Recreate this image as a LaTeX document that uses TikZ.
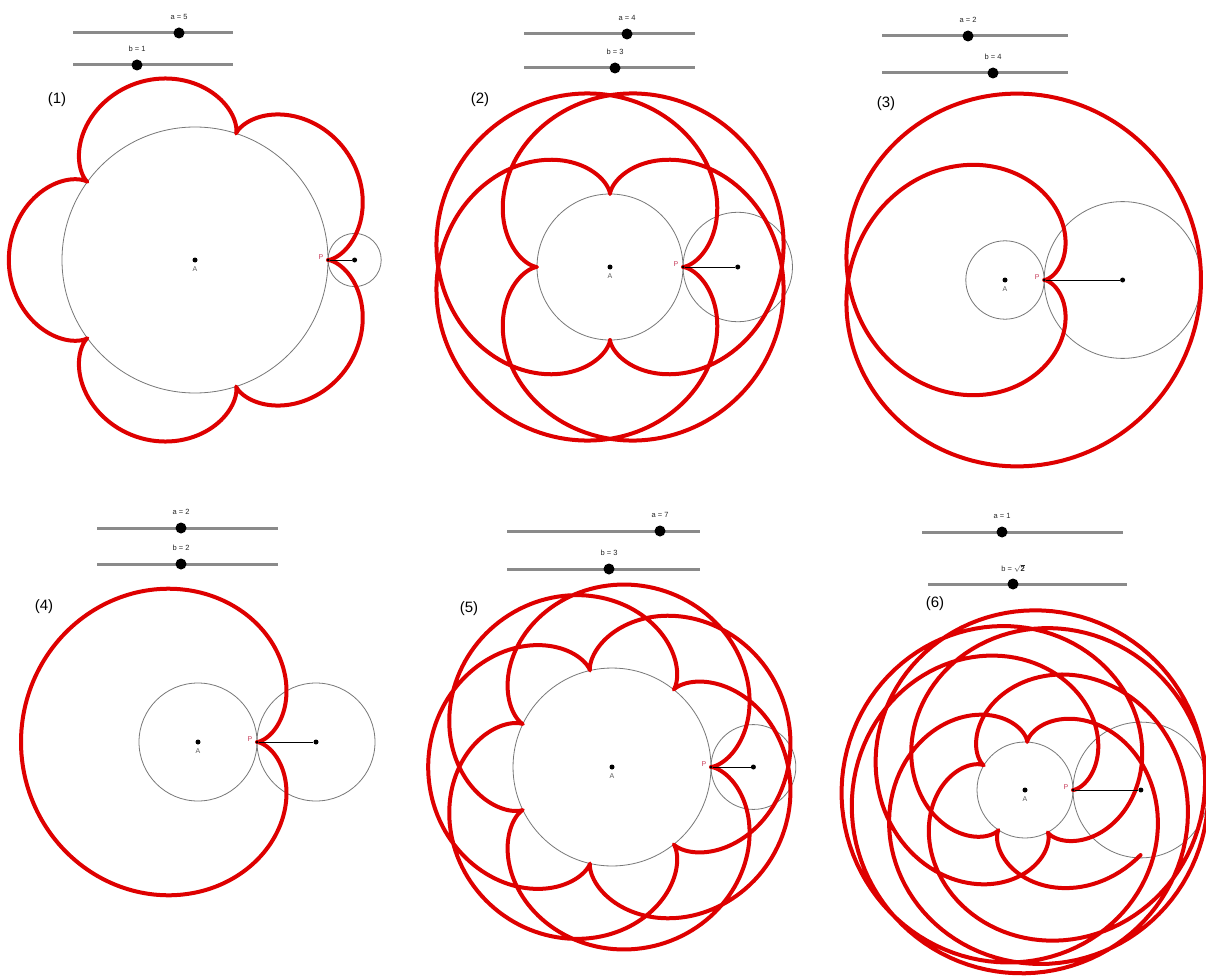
\documentclass[tikz,border=0pt]{standalone}
\usepackage{fontspec}
\setmainfont{Liberation Sans}
\definecolor{curvered}{RGB}{222,0,0}
\definecolor{slidergray}{RGB}{138,138,138}
\definecolor{circgray}{RGB}{120,120,120}
\definecolor{plabel}{RGB}{200,60,90}
\tikzset{
  curve/.style={draw=curvered, line width=4pt, line join=round, line cap=round},
  thincirc/.style={draw=circgray, line width=0.8pt},
  dot/.style={circle, fill=black, inner sep=0pt, minimum size=5pt},
  pdot/.style={circle, fill=black, inner sep=0pt, minimum size=3pt},
  seg/.style={draw=black, line width=0.9pt},
  lblA/.style={text=black!65, font=\fontsize{7}{8}\selectfont, inner sep=1pt},
  lblP/.style={text=plabel, font=\fontsize{7}{8}\selectfont, inner sep=1pt},
  sliderline/.style={draw=slidergray, line width=3pt},
  handle/.style={circle, fill=black, inner sep=0pt, minimum size=11pt},
  sliderlabel/.style={font=\fontsize{7.5}{9}\selectfont, text=black!85, inner sep=1pt},
  panellabel/.style={font=\fontsize{15}{17}\selectfont, inner sep=0pt}
}
% #1 u, #2 a, #3 b, #4 tmax, #5 samples
\newcommand\epicurve[5]{\draw[curve] plot[domain=0:#4, samples=#5, variable=\t]
  ({#1*((#2+#3)*cos(deg(\t)) - #3*cos(deg((#2+#3)/#3*\t)))},
   {#1*((#2+#3)*sin(deg(\t)) - #3*sin(deg((#2+#3)/#3*\t)))});}
% #1 Ax, #2 Ay, #3 u, #4 a, #5 b, #6 tmax, #7 samples, #8 id
\newcommand\epipanel[8]{%
\begin{scope}[shift={(#1,-#2)}]
  \draw[thincirc] (0,0) circle ({#3*#4});
  \draw[thincirc] ({#3*(#4+#5)},0) circle ({#3*#5});
  \epicurve{#3}{#4}{#5}{#6}{#7}
  \node[dot] (A#8) at (0,0) {};
  \node[dot] (C#8) at ({#3*(#4+#5)},0) {};
  \node[pdot] (P#8) at ({#3*#4},0) {};
  \draw[seg] (P#8) -- (C#8);
  \node[lblA] (LA#8) at (0,-9) {A};
  \node[lblP] (LP#8) at ({#3*#4-7},3) {P};
\end{scope}}
% #1 x1, #2 x2, #3 y, #4 handle x, #5 label, #6 id
\newcommand\epislider[6]{%
  \coordinate (SL#6) at (#1,-#3);
  \coordinate (SR#6) at (#2,-#3);
  \draw[sliderline] (SL#6) -- (SR#6);
  \node[handle] (H#6) at (#4,-#3) {};
  \node[sliderlabel] (T#6) at (#4,-#3+16) {#5};}
\begin{document}
\begin{tikzpicture}[x=1pt,y=1pt]
\useasboundingbox (0,0) rectangle (1206,-976);
\fill[white] (0,0) rectangle (1206,-976);
% sliders
\epislider{73}{233}{33}{179}{a = 5}{1a}
\epislider{73}{233}{65}{137}{b = 1}{1b}
\epislider{524}{695}{34}{627}{a = 4}{2a}
\epislider{524}{695}{68}{615}{b = 3}{2b}
\epislider{882}{1068}{36}{968}{a = 2}{3a}
\epislider{882}{1068}{73}{993}{b = 4}{3b}
\epislider{97}{278}{528}{181}{a = 2}{4a}
\epislider{97}{278}{564}{181}{b = 2}{4b}
\epislider{507}{700}{531}{660}{a = 7}{5a}
\epislider{507}{700}{569}{609}{b = 3}{5b}
\epislider{922}{1123}{532}{1002}{a = 1}{6a}
\epislider{928}{1127}{584}{1013}{b = $\mathbf{\sqrt{2}}$}{6b}
% panel labels
\node[panellabel] (N1) at (57,-100) {(1)};
\node[panellabel] (N2) at (480,-100) {(2)};
\node[panellabel] (N3) at (886,-104) {(3)};
\node[panellabel] (N4) at (44,-607) {(4)};
\node[panellabel] (N5) at (469,-609) {(5)};
\node[panellabel] (N6) at (935,-604) {(6)};
% panels
\epipanel{195}{260}{26.6}{5}{1}{6.28319}{400}{1}
\epipanel{610}{267}{18.25}{4}{3}{18.84956}{700}{2}
\epipanel{1005}{280}{19.6}{2}{4}{12.56637}{400}{3}
\epipanel{198}{742}{29.5}{2}{2}{6.28319}{300}{4}
\epipanel{612}{767}{14.14}{7}{3}{18.84956}{900}{5}
\epipanel{1025}{790}{48}{1}{1.41421}{37.73}{900}{6}
\end{tikzpicture}
\end{document}
